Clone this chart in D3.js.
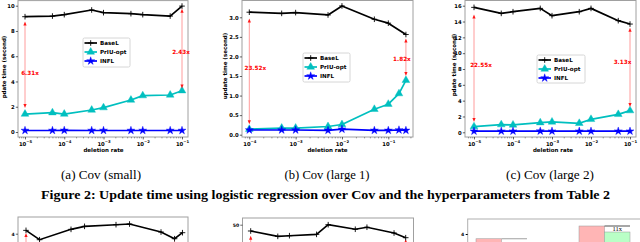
<!DOCTYPE html>
<html><head><meta charset="utf-8">
<script src="https://cdn.jsdelivr.net/npm/d3@7"></script>
<style>body{margin:0;background:#fff}svg{display:block}</style>
</head><body><svg id="c" width="640" height="242"></svg>
<script>
// ---------------- data ----------------
const seriesNames = ['BaseL', 'PrIU-opt', 'INFL'];
const xTicksSmall = [1e-5, 1e-4, 1e-3, 1e-2, 1e-1];
const xTicksLarge1 = [1e-4, 1e-3, 1e-2, 1e-1];
const yTicksA = [0, 2, 4, 6, 8, 10];
const yTicksB = [0, 0.5, 1.0, 1.5, 2.0, 2.5, 3.0];
const yTicksC = [0, 2, 4, 6, 8, 10, 12, 14, 16];

const xSmall = [1e-5, 5e-5, 1e-4, 5e-4, 1e-3, 5e-3, 1e-2, 5e-2, 1e-1];
const baseA = [9.13, 9.18, 9.29, 9.66, 9.45, 9.37, 9.29, 9.18, 9.97];
const priuA = [1.42, 1.53, 1.42, 1.74, 1.93, 2.53, 2.88, 2.93, 3.27];
const inflA = [0.12, 0.12, 0.13, 0.12, 0.12, 0.12, 0.12, 0.12, 0.12];

const xBaseB = [1e-4, 5e-4, 1e-3, 5e-3, 1e-2, 5e-2, 1e-1, 0.24];
const xLarge1 = [1e-4, 5e-4, 1e-3, 5e-3, 1e-2, 5e-2, 1e-1, 0.17, 0.24];
const baseB = [3.13, 3.10, 3.12, 3.06, 3.29, 2.95, 2.85, 2.56];
const priuB = [0.14, 0.17, 0.17, 0.21, 0.26, 0.65, 0.78, 1.05, 1.39];
const inflB = [0.12, 0.12, 0.12, 0.11, 0.14, 0.11, 0.11, 0.12, 0.11];

const baseC = [15.79, 15.03, 15.24, 15.66, 14.74, 15.24, 15.66, 14.11, 13.68];
const priuC = [0.72, 0.97, 0.93, 1.22, 1.31, 1.14, 1.64, 2.27, 2.74];
const inflC = [0.14, 0.14, 0.14, 0.15, 0.14, 0.14, 0.14, 0.14, 0.14];

// speed-up arrows: [x, top value, bottom value, label, label value]
const arrowsA = [[1e-5, 8.75, 1.9, '6.31x', 4.7], [1e-1, 9.75, 3.45, '2.43x', 6.36]];
const arrowsB = [[1e-4, 2.97, 0.27, '23.52x', 1.70], [0.24, 2.46, 1.5, '1.82x', 1.93]];
const arrowsC = [[1e-5, 14.9, 1.3, '22.55x', 8.5], [1e-1, 13.2, 3.2, '3.13x', 8.92]];

// partially visible next-row figures
const xD = [1e-4, 2e-4, 1e-3, 2e-3, 1e-2, 2e-2, 1e-1, 2e-1, 3e-1];
const baseD = [4.10, 3.82, 4.13, 4.22, 4.27, 4.29, 4.05, 3.85, 4.03];
const arrowsD = [[1e-4, 4.02, 1], [2e-1, 3.78, 1]];
const xE = [1e-5, 5e-5, 1e-4, 5e-4, 1e-3, 5e-3, 1e-2, 5e-2, 1e-1];
const baseE = [45.3, 41.3, 41.8, 42.8, 50.0, 46.6, 48.1, 43.8, 40.3];
const arrowsE = [[1e-5, 41.8, 10], [1e-1, 39.2, 10]];
const groupsF = ['g1', 'g2'];
const pinkF = [3.81, 4.32];
const greenF = [3.5, 4.08];
const labelsF = ['', '11x'];

const captions = ['(a) Cov (small)', '(b) Cov (large 1)', '(c) Cov (large 2)'];
const figCaption = 'Figure 2: Update time using logistic regression over Cov and the hyperparameters from Table 2';

// ---------------- drawing ----------------
const svg = d3.select('#c');
const SANS = "'DejaVu Sans', sans-serif";
const COL = {'BaseL': '#000000', 'PrIU-opt': '#00bfbf', 'INFL': '#0000ff'};
const SHAPE = {'BaseL': 'plus', 'PrIU-opt': 'tri', 'INFL': 'star'};
const triPath = d3.symbol(d3.symbolTriangle, 26)();
const starPath = d3.symbol(d3.symbolStar, 20)();

function drawMarker(g, shape, color, cx, cy) {
  if (shape === 'plus') {
    g.append('path').attr('d', 'M-2.8,0H2.8M0,-2.8V2.8')
      .attr('transform', `translate(${cx},${cy})`).attr('stroke', color).attr('stroke-width', 0.9).attr('fill', 'none');
  } else {
    g.append('path').attr('d', shape === 'tri' ? triPath : starPath)
      .attr('transform', `translate(${cx},${cy})`).attr('fill', color).attr('stroke', color).attr('stroke-width', 0.4);
  }
}

function supLabel(sel, v) {
  sel.text(null);
  sel.append('tspan').text('10');
  sel.append('tspan').attr('font-size', 3.8).attr('dy', -2.5).text('\u2212' + Math.round(-Math.log10(v)));
}

function drawArrow(g, xp, ytop, ybot, color) {
  g.append('line').attr('x1', xp).attr('x2', xp).attr('y1', ytop + 2).attr('y2', ybot - 2)
    .attr('stroke', '#ff9c9c').attr('stroke-width', 1);
  g.append('path').attr('d', `M${xp},${ytop}L${xp - 1.6},${ytop + 4}L${xp + 1.6},${ytop + 4}Z`).attr('fill', color);
  g.append('path').attr('d', `M${xp},${ybot}L${xp - 1.6},${ybot - 4}L${xp + 1.6},${ybot - 4}Z`).attr('fill', color);
}

function panel(o) {
  const g = svg.append('g');
  const x = d3.scaleLog().domain(o.xd).range(o.xr);
  const y = d3.scaleLinear().domain(o.yd).range(o.yr);
  const [fx0, fx1] = o.fx, [fy0, fy1] = o.fy;
  g.append('rect').attr('x', fx0).attr('y', fy0).attr('width', fx1 - fx0).attr('height', fy1 - fy0)
    .attr('fill', 'none').attr('stroke', '#a0a0a0').attr('stroke-width', 1);

  // y axis
  const ya = g.append('g').attr('transform', `translate(${fx0},0)`)
    .call(d3.axisLeft(y).tickValues(o.yt).tickSize(2.2).tickPadding(1.2).tickFormat(o.yfmt));
  ya.select('.domain').remove();
  ya.attr('font-family', SANS).attr('font-size', 5.3).attr('font-weight', 'bold');
  ya.selectAll('line').attr('stroke', '#222').attr('stroke-width', 0.7);

  // x axis: minor ticks
  const minors = [];
  for (let e = -7; e <= 0; e++) for (let m = 2; m <= 9; m++) {
    const v = m * Math.pow(10, e);
    if (x(v) > fx0 + 0.5 && x(v) < fx1 - 0.5) minors.push(v);
  }
  const xm = g.append('g').attr('transform', `translate(0,${fy1})`)
    .call(d3.axisBottom(x).tickValues(minors).tickSize(1.4).tickFormat(''));
  xm.select('.domain').remove();
  xm.selectAll('line').attr('stroke', '#444').attr('stroke-width', 0.5);
  const xa = g.append('g').attr('transform', `translate(0,${fy1})`)
    .call(d3.axisBottom(x).tickValues(o.xt).tickSize(2.4).tickFormat(''));
  xa.select('.domain').remove();
  xa.attr('font-family', SANS).attr('font-size', 5.3).attr('font-weight', 'bold');
  xa.selectAll('line').attr('stroke', '#222').attr('stroke-width', 0.7);
  xa.selectAll('.tick text').attr('y', 145.8 - fy1).attr('dy', null).attr('fill', '#000')
    .each(function (d) { supLabel(d3.select(this), d); });

  // axis titles
  g.append('text').attr('x', o.xlx).attr('y', 152.4).attr('text-anchor', 'middle')
    .attr('font-family', SANS).attr('font-size', 5.5).attr('font-weight', 'bold').text('deletion rate');
  g.append('text').attr('transform', `translate(${o.ylx},${o.yly}) rotate(-90)`).attr('text-anchor', 'middle')
    .attr('font-family', SANS).attr('font-size', 5.5).attr('font-weight', 'bold').text(o.ylab);

  // series
  o.series.forEach(s => {
    const pts = s.xs.map((xv, i) => [x(xv), y(s.ys[i])]);
    g.append('path').attr('d', d3.line()(pts)).attr('fill', 'none')
      .attr('stroke', COL[s.name]).attr('stroke-width', 1.7).attr('stroke-linejoin', 'round');
    pts.forEach(p => drawMarker(g, SHAPE[s.name], COL[s.name], p[0], p[1]));
  });

  // arrows
  o.arrows.forEach((a, i) => {
    const xp = x(a[0]);
    drawArrow(g, xp, y(a[1]), y(a[2]), '#ff1a1a');
    g.append('text').attr('x', xp + o.adx[i]).attr('y', y(a[4]) + 2).attr('text-anchor', 'middle')
      .attr('font-family', SANS).attr('font-size', 5.7).attr('font-weight', 'bold').attr('fill', '#ff0000').text(a[3]);
  });

  // legend
  const L = o.legend;
  g.append('rect').attr('x', L.x).attr('y', L.y).attr('width', L.w).attr('height', L.h).attr('rx', 1.5)
    .attr('fill', '#fff').attr('fill-opacity', 0.9).attr('stroke', '#cccccc').attr('stroke-width', 0.8);
  seriesNames.forEach((n, i) => {
    const ry = L.y + 5 + i * 9;
    g.append('line').attr('x1', L.x + 1.5).attr('x2', L.x + 14).attr('y1', ry).attr('y2', ry)
      .attr('stroke', COL[n]).attr('stroke-width', 1.7);
    drawMarker(g, SHAPE[n], COL[n], L.x + 7.7, ry);
    g.append('text').attr('x', L.x + 17).attr('y', ry + 2).attr('font-family', SANS).attr('font-size', 5.6)
      .attr('font-weight', 'bold').text(n);
  });
}

panel({
  fx: [18, 188], fy: [0.6, 137], xd: [1e-5, 1e-1], xr: [25, 182], yd: [0, 10], yr: [132, 5.7],
  yt: yTicksA, yfmt: d3.format('d'), xt: xTicksSmall, ylab: 'pdate time (second)', ylx: 5.8, yly: 67, xlx: 103.5,
  series: [{name: 'BaseL', xs: xSmall, ys: baseA}, {name: 'PrIU-opt', xs: xSmall, ys: priuA}, {name: 'INFL', xs: xSmall, ys: inflA}],
  arrows: arrowsA, adx: [5, -1], legend: {x: 83, y: 38, w: 47, h: 29}
});
panel({
  fx: [242, 413], fy: [0.5, 137], xd: [1e-4, 1e-1], xr: [249.3, 388.3], yd: [0, 3], yr: [134.7, 17.3],
  yt: yTicksB, yfmt: d3.format('.1f'), xt: xTicksLarge1, ylab: 'update time (second)', ylx: 227.3, yly: 66, xlx: 327.5,
  series: [{name: 'BaseL', xs: xBaseB, ys: baseB}, {name: 'PrIU-opt', xs: xLarge1, ys: priuB}, {name: 'INFL', xs: xLarge1, ys: inflB}],
  arrows: arrowsB, adx: [6, -4], legend: {x: 303, y: 53, w: 47, h: 29}
});
panel({
  fx: [465, 636], fy: [0.5, 137], xd: [1e-5, 1e-1], xr: [474, 630], yd: [0, 16], yr: [132.3, 5.7],
  yt: yTicksC, yfmt: d3.format('d'), xt: xTicksSmall, ylab: 'pdate time (second)', ylx: 455.6, yly: 65, xlx: 553,
  series: [{name: 'BaseL', xs: xSmall, ys: baseC}, {name: 'PrIU-opt', xs: xSmall, ys: priuC}, {name: 'INFL', xs: xSmall, ys: inflC}],
  arrows: arrowsC, adx: [7, -7.5], legend: {x: 537, y: 55, w: 48, h: 28}
});

// captions
const capX = [101, 327, 550], capW = [80, 85, 88];
captions.forEach((c, i) => {
  svg.append('text').attr('x', capX[i]).attr('y', 178.5).attr('text-anchor', 'middle')
    .attr('font-family', "'Liberation Serif', serif").attr('font-size', 12)
    .attr('textLength', capW[i]).attr('lengthAdjust', 'spacingAndGlyphs').text(c);
});
svg.append('text').attr('x', 325.5).attr('y', 198.5).attr('text-anchor', 'middle')
  .attr('font-family', "'Liberation Serif', serif").attr('font-size', 12).attr('font-weight', 'bold')
  .attr('textLength', 569).attr('lengthAdjust', 'spacingAndGlyphs').text(figCaption);

// ---- next row (cut off) ----
function linePanel(fx, fy, xd, xr, yd, yr, yt, xs, ys, arrows) {
  const g = svg.append('g');
  const x = d3.scaleLog().domain(xd).range(xr);
  const y = d3.scaleLinear().domain(yd).range(yr);
  g.append('rect').attr('x', fx[0]).attr('y', fy).attr('width', fx[1] - fx[0]).attr('height', 200)
    .attr('fill', 'none').attr('stroke', '#a0a0a0').attr('stroke-width', 1);
  const ya = g.append('g').attr('transform', `translate(${fx[0]},0)`)
    .call(d3.axisLeft(y).tickValues(yt).tickSize(2.2).tickPadding(1.2).tickFormat(d3.format('d')));
  ya.select('.domain').remove();
  ya.attr('font-family', SANS).attr('font-size', 4.6).attr('font-weight', 'bold');
  ya.selectAll('line').attr('stroke', '#222').attr('stroke-width', 0.7);
  const pts = xs.map((xv, i) => [x(xv), y(ys[i])]);
  arrows.forEach(a => drawArrow(g, x(a[0]), y(a[1]), y(a[2]), '#ff1a1a'));
  g.append('path').attr('d', d3.line()(pts)).attr('fill', 'none').attr('stroke', '#000').attr('stroke-width', 1.6);
  pts.forEach(p => drawMarker(g, 'plus', '#000', p[0], p[1]));
}
linePanel([18, 188], 217, [1e-4, 1e-1], [26, 161], [0, 4.5], [367.3, 217], [4], xD, baseD, arrowsD);
linePanel([242.5, 413.5], 218, [1e-5, 1e-1], [250.7, 405.7], [0, 55], [291.7, 218], [50], xE, baseE, arrowsE);

// bar panel (cut off)
(function () {
  const g = svg.append('g');
  const x = d3.scaleBand().domain(groupsF).range([476, 630]).paddingInner(0.505);
  const xs = d3.scaleBand().domain(['pink', 'green']).range([0, x.bandwidth()]);
  const y = d3.scaleLinear().domain([0, 4.6]).range([334, 219]);
  g.append('rect').attr('x', 467.7).attr('y', 219).attr('width', 300).attr('height', 200)
    .attr('fill', 'none').attr('stroke', '#b0b0b0').attr('stroke-width', 1);
  const ya = g.append('g').attr('transform', 'translate(467.7,0)')
    .call(d3.axisLeft(y).tickValues([4]).tickSize(2).tickPadding(1.5).tickFormat(d3.format('d')));
  ya.select('.domain').remove();
  ya.attr('font-family', SANS).attr('font-size', 4.6).attr('font-weight', 'bold');
  groupsF.forEach((gr, i) => {
    const x0 = x(gr);
    g.append('rect').attr('x', x0 + xs('pink')).attr('y', y(pinkF[i])).attr('width', xs.bandwidth()).attr('height', 200)
      .attr('fill', '#ffb5b5').attr('stroke', '#999').attr('stroke-width', 0.5);
    g.append('rect').attr('x', x0 + xs('green')).attr('y', y(greenF[i])).attr('width', xs.bandwidth()).attr('height', 200)
      .attr('fill', '#b9ffc6').attr('stroke', '#999').attr('stroke-width', 0.5);
    g.append('line').attr('x1', x0 + xs('green')).attr('x2', x0 + xs('green') + xs.bandwidth())
      .attr('y1', y(pinkF[i])).attr('y2', y(pinkF[i])).attr('stroke', i ? '#222' : '#888').attr('stroke-width', 0.8);
    g.append('text').attr('x', x0 + xs('green') + xs.bandwidth() / 2).attr('y', y(greenF[i]) - 0.6)
      .attr('text-anchor', 'middle').attr('font-family', "'Liberation Serif', serif").attr('font-size', 6.5).text(labelsF[i]);
  });
})();
</script>
</body></html>
